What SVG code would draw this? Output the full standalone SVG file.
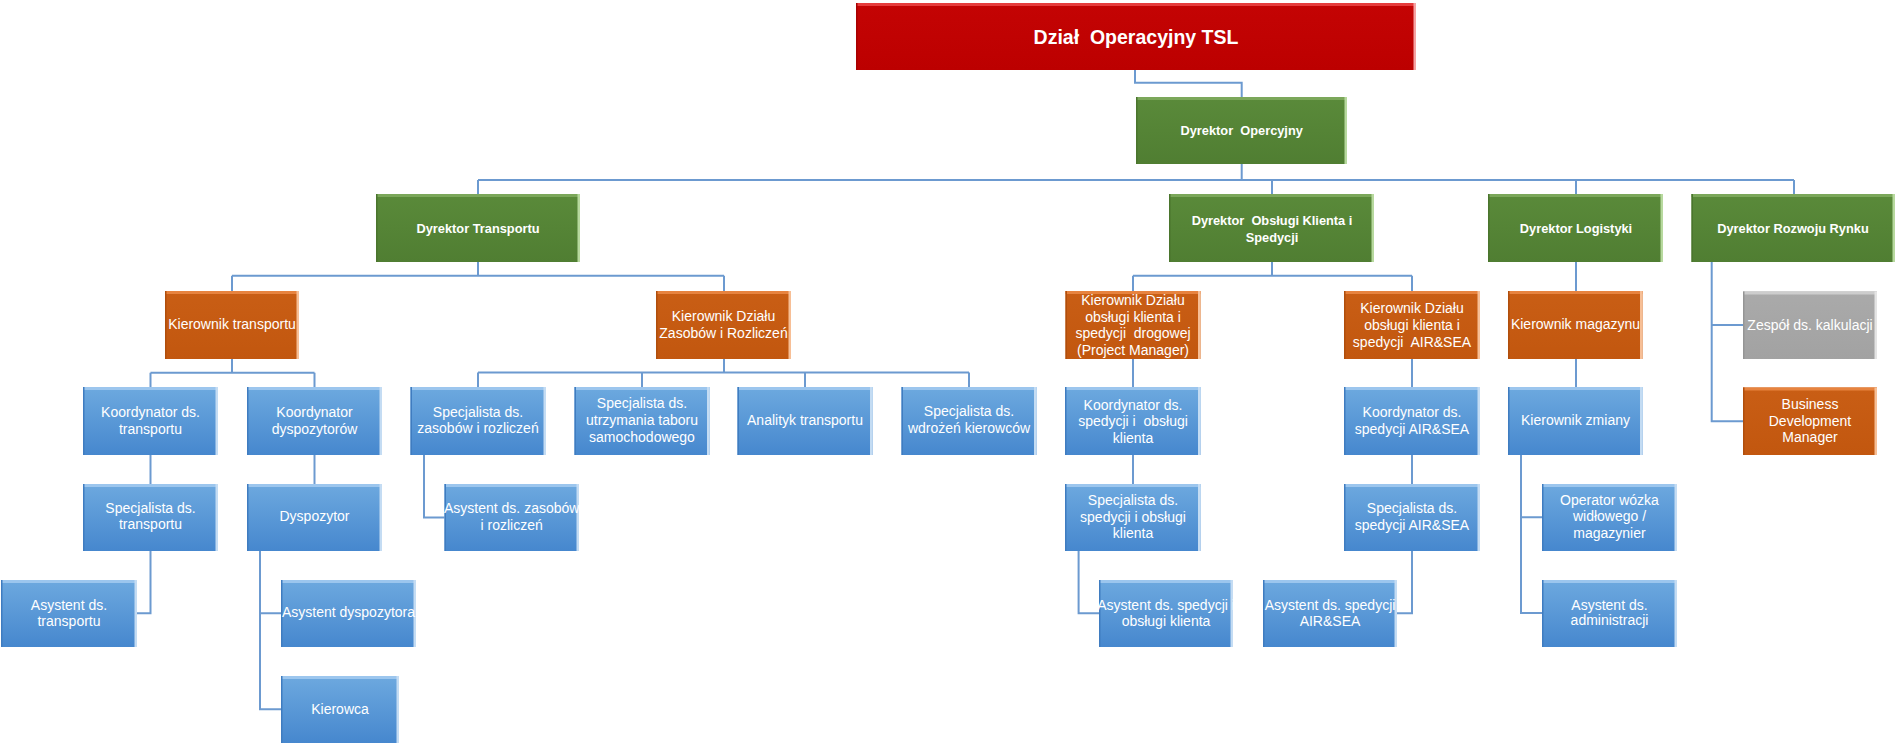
<svg xmlns="http://www.w3.org/2000/svg" width="1895" height="745" viewBox="0 0 1895 745">
<defs>
<linearGradient id="gBlue" x1="0" y1="0" x2="0" y2="1"><stop offset="0" stop-color="#6DA9DF"/><stop offset="1" stop-color="#4687CE"/></linearGradient>
<linearGradient id="gGreen" x1="0" y1="0" x2="0" y2="1"><stop offset="0" stop-color="#5A8A3A"/><stop offset="1" stop-color="#507E32"/></linearGradient>
<linearGradient id="gOrange" x1="0" y1="0" x2="0" y2="1"><stop offset="0" stop-color="#C95E15"/><stop offset="1" stop-color="#C2570F"/></linearGradient>
<linearGradient id="gRed" x1="0" y1="0" x2="0" y2="1"><stop offset="0" stop-color="#C40404"/><stop offset="1" stop-color="#BC0000"/></linearGradient>
<linearGradient id="gGray" x1="0" y1="0" x2="0" y2="1"><stop offset="0" stop-color="#AAAAAA"/><stop offset="1" stop-color="#A2A2A2"/></linearGradient>
<style>
.node text{font-family:"Liberation Sans",Arial,sans-serif;font-size:14px;fill:#FFFFFF;text-anchor:middle;white-space:pre}
.dir text{font-weight:bold;font-size:12.8px}
.ttl text{font-weight:bold;font-size:19.5px}
.blue .body{fill:url(#gBlue)} .blue .top{fill:#9CC6EE} .blue .side{fill:#C4DCF3} .blue .lft{fill:#3F7CC0}
.green .body{fill:url(#gGreen)} .green .top{fill:#7BA75A} .green .side{fill:#B7D99E} .green .lft{fill:#4A752D}
.orange .body{fill:url(#gOrange)} .orange .top{fill:#E7833F} .orange .side{fill:#F7BF96} .orange .lft{fill:#B04E0C}
.red .body{fill:url(#gRed)} .red .top{fill:#E63C3C} .red .side{fill:#F6A3A3} .red .lft{fill:#A80000}
.gray .body{fill:url(#gGray)} .gray .top{fill:#CDCDCD} .gray .side{fill:#E4E4E4} .gray .lft{fill:#959595}
#connectors path{fill:none;stroke:#6C9AD0;stroke-width:2}
</style>
</defs>
<rect width="1895" height="745" fill="#FFFFFF"/>

<g id="connectors">
<path d="M1135 70 V82.7 H1241.7 V97"/>
<path d="M1241.7 164 V180"/>
<path d="M478 180 H1794 M478 180 V194 M1272 180 V194 M1576 180 V194 M1794 180 V194"/>
<path d="M478 262 V275.7 M232 275.7 H724 M232 275.7 V291 M724 275.7 V291"/>
<path d="M232 359 V372.7 M150.5 372.7 H314.5 M150.5 372.7 V387 M314.5 372.7 V387"/>
<path d="M724 359 V372.5 M478 372.5 H969 M478 372.5 V387 M642 372.5 V387 M805 372.5 V387 M969 372.5 V387"/>
<path d="M150.5 455 V484"/>
<path d="M150.5 551 V613.3 H137"/>
<path d="M314.5 455 V484"/>
<path d="M260 551 V709.3 H281 M260 613.3 H281"/>
<path d="M424 455 V517.5 H444.5"/>
<path d="M1272 262 V275.7 M1133 275.7 H1412 M1133 275.7 V291 M1412 275.7 V291"/>
<path d="M1133 359 V387 M1133 455 V484"/>
<path d="M1078.6 551 V613.3 H1099"/>
<path d="M1412 359 V387 M1412 455 V484"/>
<path d="M1412 551 V613.3 H1397"/>
<path d="M1576 262 V291 M1576 359 V387"/>
<path d="M1521 455 V613 H1542 M1521 517.3 H1542"/>
<path d="M1711.7 262 V421.3 H1743 M1711.7 325 H1743"/>
</g>

<g id="n-title" class="node red ttl"><rect class="body" x="856" y="3" width="560" height="67"/><rect class="top" x="856" y="3" width="560" height="3"/><rect class="lft" x="856" y="3" width="1.5" height="67"/><rect class="side" x="1413.5" y="3" width="2.5" height="67"/><text x="1136" y="43.5">Dział  Operacyjny TSL</text></g>

<g id="n-op" class="node green dir"><rect class="body" x="1136" y="97" width="211" height="67"/><rect class="top" x="1136" y="97" width="211" height="3"/><rect class="lft" x="1136" y="97" width="1.5" height="67"/><rect class="side" x="1344.5" y="97" width="2.5" height="67"/><text x="1241.7" y="135">Dyrektor  Opercyjny</text></g>

<g id="n-dt" class="node green dir"><rect class="body" x="376" y="194" width="204" height="68"/><rect class="top" x="376" y="194" width="204" height="3"/><rect class="lft" x="376" y="194" width="1.5" height="68"/><rect class="side" x="577.5" y="194" width="2.5" height="68"/><text x="478" y="233">Dyrektor Transportu</text></g>

<g id="n-dok" class="node green dir"><rect class="body" x="1169" y="194" width="205" height="68"/><rect class="top" x="1169" y="194" width="205" height="3"/><rect class="lft" x="1169" y="194" width="1.5" height="68"/><rect class="side" x="1371.5" y="194" width="2.5" height="68"/><text><tspan x="1272" y="224.5">Dyrektor  Obsługi Klienta i</tspan><tspan x="1272" y="241.5">Spedycji</tspan></text></g>

<g id="n-dl" class="node green dir"><rect class="body" x="1488" y="194" width="175" height="68"/><rect class="top" x="1488" y="194" width="175" height="3"/><rect class="lft" x="1488" y="194" width="1.5" height="68"/><rect class="side" x="1660.5" y="194" width="2.5" height="68"/><text x="1576" y="233">Dyrektor Logistyki</text></g>

<g id="n-dr" class="node green dir"><rect class="body" x="1691.5" y="194" width="203.5" height="68"/><rect class="top" x="1691.5" y="194" width="203.5" height="3"/><rect class="lft" x="1691.5" y="194" width="1.5" height="68"/><rect class="side" x="1892.5" y="194" width="2.5" height="68"/><text x="1793" y="233">Dyrektor Rozwoju Rynku</text></g>

<g id="n-kt" class="node orange"><rect class="body" x="165" y="291" width="134" height="68"/><rect class="top" x="165" y="291" width="134" height="3"/><rect class="lft" x="165" y="291" width="1.5" height="68"/><rect class="side" x="296.5" y="291" width="2.5" height="68"/><text x="232" y="329">Kierownik transportu</text></g>

<g id="n-kz" class="node orange"><rect class="body" x="656" y="291" width="135" height="68"/><rect class="top" x="656" y="291" width="135" height="3"/><rect class="lft" x="656" y="291" width="1.5" height="68"/><rect class="side" x="788.5" y="291" width="2.5" height="68"/><text><tspan x="723.5" y="321.2">Kierownik Działu</tspan><tspan x="723.5" y="337.9">Zasobów i Rozliczeń</tspan></text></g>

<g id="n-kd" class="node orange"><rect class="body" x="1065.5" y="291" width="135" height="68"/><rect class="top" x="1065.5" y="291" width="135" height="3"/><rect class="lft" x="1065.5" y="291" width="1.5" height="68"/><rect class="side" x="1198" y="291" width="2.5" height="68"/><text><tspan x="1133" y="305">Kierownik Działu</tspan><tspan x="1133" y="321.5">obsługi klienta i</tspan><tspan x="1133" y="338">spedycji  drogowej</tspan><tspan x="1133" y="354.7">(Project Manager)</tspan></text></g>

<g id="n-ka" class="node orange"><rect class="body" x="1344" y="291" width="136" height="68"/><rect class="top" x="1344" y="291" width="136" height="3"/><rect class="lft" x="1344" y="291" width="1.5" height="68"/><rect class="side" x="1477.5" y="291" width="2.5" height="68"/><text><tspan x="1412" y="312.8">Kierownik Działu</tspan><tspan x="1412" y="329.5">obsługi klienta i</tspan><tspan x="1412" y="346.5">spedycji  AIR&amp;SEA</tspan></text></g>

<g id="n-km" class="node orange"><rect class="body" x="1508" y="291" width="134.5" height="68"/><rect class="top" x="1508" y="291" width="134.5" height="3"/><rect class="lft" x="1508" y="291" width="1.5" height="68"/><rect class="side" x="1640" y="291" width="2.5" height="68"/><text x="1575.5" y="329.2">Kierownik magazynu</text></g>

<g id="n-zk" class="node gray"><rect class="body" x="1743" y="291.5" width="134" height="67.5"/><rect class="top" x="1743" y="291.5" width="134" height="3"/><rect class="lft" x="1743" y="291.5" width="1.5" height="67.5"/><rect class="side" x="1874.5" y="291.5" width="2.5" height="67.5"/><text x="1810" y="329.5">Zespół ds. kalkulacji</text></g>

<g id="n-kdt" class="node blue"><rect class="body" x="83" y="387" width="135" height="68"/><rect class="top" x="83" y="387" width="135" height="3"/><rect class="lft" x="83" y="387" width="1.5" height="68"/><rect class="side" x="215.5" y="387" width="2.5" height="68"/><text><tspan x="150.5" y="416.8">Koordynator ds.</tspan><tspan x="150.5" y="433.5">transportu</tspan></text></g>

<g id="n-kdy" class="node blue"><rect class="body" x="247" y="387" width="135" height="68"/><rect class="top" x="247" y="387" width="135" height="3"/><rect class="lft" x="247" y="387" width="1.5" height="68"/><rect class="side" x="379.5" y="387" width="2.5" height="68"/><text><tspan x="314.5" y="416.8">Koordynator</tspan><tspan x="314.5" y="433.5">dyspozytorów</tspan></text></g>

<g id="n-sz" class="node blue"><rect class="body" x="410.5" y="387" width="135.5" height="68"/><rect class="top" x="410.5" y="387" width="135.5" height="3"/><rect class="lft" x="410.5" y="387" width="1.5" height="68"/><rect class="side" x="543.5" y="387" width="2.5" height="68"/><text><tspan x="478" y="416.5">Specjalista ds.</tspan><tspan x="478" y="433.3">zasobów i rozliczeń</tspan></text></g>

<g id="n-su" class="node blue"><rect class="body" x="574.5" y="387" width="135" height="68"/><rect class="top" x="574.5" y="387" width="135" height="3"/><rect class="lft" x="574.5" y="387" width="1.5" height="68"/><rect class="side" x="707" y="387" width="2.5" height="68"/><text><tspan x="642" y="407.8">Specjalista ds.</tspan><tspan x="642" y="424.8">utrzymania taboru</tspan><tspan x="642" y="441.6">samochodowego</tspan></text></g>

<g id="n-at" class="node blue"><rect class="body" x="737.5" y="387" width="135" height="68"/><rect class="top" x="737.5" y="387" width="135" height="3"/><rect class="lft" x="737.5" y="387" width="1.5" height="68"/><rect class="side" x="870" y="387" width="2.5" height="68"/><text x="805" y="425">Analityk transportu</text></g>

<g id="n-sw" class="node blue"><rect class="body" x="901.5" y="387" width="135" height="68"/><rect class="top" x="901.5" y="387" width="135" height="3"/><rect class="lft" x="901.5" y="387" width="1.5" height="68"/><rect class="side" x="1034" y="387" width="2.5" height="68"/><text><tspan x="969" y="416.2">Specjalista ds.</tspan><tspan x="969" y="432.8">wdrożeń kierowców</tspan></text></g>

<g id="n-ksp" class="node blue"><rect class="body" x="1065" y="387" width="135.5" height="68"/><rect class="top" x="1065" y="387" width="135.5" height="3"/><rect class="lft" x="1065" y="387" width="1.5" height="68"/><rect class="side" x="1198" y="387" width="2.5" height="68"/><text><tspan x="1133" y="409.5">Koordynator ds.</tspan><tspan x="1133" y="426.2">spedycji i  obsługi</tspan><tspan x="1133" y="442.5">klienta</tspan></text></g>

<g id="n-kair" class="node blue"><rect class="body" x="1344" y="387" width="136" height="68"/><rect class="top" x="1344" y="387" width="136" height="3"/><rect class="lft" x="1344" y="387" width="1.5" height="68"/><rect class="side" x="1477.5" y="387" width="2.5" height="68"/><text><tspan x="1412" y="416.8">Koordynator ds.</tspan><tspan x="1412" y="433.8">spedycji AIR&amp;SEA</tspan></text></g>

<g id="n-kzm" class="node blue"><rect class="body" x="1508" y="387" width="134.5" height="68"/><rect class="top" x="1508" y="387" width="134.5" height="3"/><rect class="lft" x="1508" y="387" width="1.5" height="68"/><rect class="side" x="1640" y="387" width="2.5" height="68"/><text x="1575.5" y="424.8">Kierownik zmiany</text></g>

<g id="n-bdm" class="node orange"><rect class="body" x="1743" y="387.5" width="134" height="67.5"/><rect class="top" x="1743" y="387.5" width="134" height="3"/><rect class="lft" x="1743" y="387.5" width="1.5" height="67.5"/><rect class="side" x="1874.5" y="387.5" width="2.5" height="67.5"/><text><tspan x="1810" y="408.8">Business</tspan><tspan x="1810" y="425.5">Development</tspan><tspan x="1810" y="442.2">Manager</tspan></text></g>

<g id="n-sdt" class="node blue"><rect class="body" x="83" y="484" width="135" height="67"/><rect class="top" x="83" y="484" width="135" height="3"/><rect class="lft" x="83" y="484" width="1.5" height="67"/><rect class="side" x="215.5" y="484" width="2.5" height="67"/><text><tspan x="150.5" y="512.8">Specjalista ds.</tspan><tspan x="150.5" y="528.8">transportu</tspan></text></g>

<g id="n-dys" class="node blue"><rect class="body" x="247" y="484" width="135" height="67"/><rect class="top" x="247" y="484" width="135" height="3"/><rect class="lft" x="247" y="484" width="1.5" height="67"/><rect class="side" x="379.5" y="484" width="2.5" height="67"/><text x="314.5" y="521.2">Dyspozytor</text></g>

<g id="n-azr" class="node blue"><rect class="body" x="444.5" y="484" width="134.5" height="67"/><rect class="top" x="444.5" y="484" width="134.5" height="3"/><rect class="lft" x="444.5" y="484" width="1.5" height="67"/><rect class="side" x="576.5" y="484" width="2.5" height="67"/><text><tspan x="511.7" y="512.8">Asystent ds. zasobów</tspan><tspan x="511.7" y="529.5">i rozliczeń</tspan></text></g>

<g id="n-ssp" class="node blue"><rect class="body" x="1065" y="484" width="135.5" height="67"/><rect class="top" x="1065" y="484" width="135.5" height="3"/><rect class="lft" x="1065" y="484" width="1.5" height="67"/><rect class="side" x="1198" y="484" width="2.5" height="67"/><text><tspan x="1133" y="505.2">Specjalista ds.</tspan><tspan x="1133" y="521.8">spedycji i obsługi</tspan><tspan x="1133" y="537.8">klienta</tspan></text></g>

<g id="n-sair" class="node blue"><rect class="body" x="1344" y="484" width="136" height="67"/><rect class="top" x="1344" y="484" width="136" height="3"/><rect class="lft" x="1344" y="484" width="1.5" height="67"/><rect class="side" x="1477.5" y="484" width="2.5" height="67"/><text><tspan x="1412" y="512.8">Specjalista ds.</tspan><tspan x="1412" y="529.5">spedycji AIR&amp;SEA</tspan></text></g>

<g id="n-opw" class="node blue"><rect class="body" x="1542" y="484" width="135" height="67"/><rect class="top" x="1542" y="484" width="135" height="3"/><rect class="lft" x="1542" y="484" width="1.5" height="67"/><rect class="side" x="1674.5" y="484" width="2.5" height="67"/><text><tspan x="1609.5" y="504.5">Operator wózka</tspan><tspan x="1609.5" y="521.2">widłowego /</tspan><tspan x="1609.5" y="537.8">magazynier</tspan></text></g>

<g id="n-adt" class="node blue"><rect class="body" x="1" y="580" width="136" height="67"/><rect class="top" x="1" y="580" width="136" height="3"/><rect class="lft" x="1" y="580" width="1.5" height="67"/><rect class="side" x="134.5" y="580" width="2.5" height="67"/><text><tspan x="69" y="609.5">Asystent ds.</tspan><tspan x="69" y="625.5">transportu</tspan></text></g>

<g id="n-ady" class="node blue"><rect class="body" x="281" y="580" width="135" height="67"/><rect class="top" x="281" y="580" width="135" height="3"/><rect class="lft" x="281" y="580" width="1.5" height="67"/><rect class="side" x="413.5" y="580" width="2.5" height="67"/><text x="348.5" y="617.2">Asystent dyspozytora</text></g>

<g id="n-asp" class="node blue"><rect class="body" x="1099" y="580" width="134" height="67"/><rect class="top" x="1099" y="580" width="134" height="3"/><rect class="lft" x="1099" y="580" width="1.5" height="67"/><rect class="side" x="1230.5" y="580" width="2.5" height="67"/><text><tspan x="1166" y="609.5">Asystent ds. spedycji i</tspan><tspan x="1166" y="625.5">obsługi klienta</tspan></text></g>

<g id="n-aair" class="node blue"><rect class="body" x="1263" y="580" width="134" height="67"/><rect class="top" x="1263" y="580" width="134" height="3"/><rect class="lft" x="1263" y="580" width="1.5" height="67"/><rect class="side" x="1394.5" y="580" width="2.5" height="67"/><text><tspan x="1330" y="609.5">Asystent ds. spedycji</tspan><tspan x="1330" y="625.5">AIR&amp;SEA</tspan></text></g>

<g id="n-aadm" class="node blue"><rect class="body" x="1542" y="580" width="135" height="67"/><rect class="top" x="1542" y="580" width="135" height="3"/><rect class="lft" x="1542" y="580" width="1.5" height="67"/><rect class="side" x="1674.5" y="580" width="2.5" height="67"/><text><tspan x="1609.5" y="609.5">Asystent ds.</tspan><tspan x="1609.5" y="625.2">administracji</tspan></text></g>

<g id="n-kie" class="node blue"><rect class="body" x="281" y="676" width="118" height="67"/><rect class="top" x="281" y="676" width="118" height="3"/><rect class="lft" x="281" y="676" width="1.5" height="67"/><rect class="side" x="396.5" y="676" width="2.5" height="67"/><text x="340" y="713.8">Kierowca</text></g>
</svg>
